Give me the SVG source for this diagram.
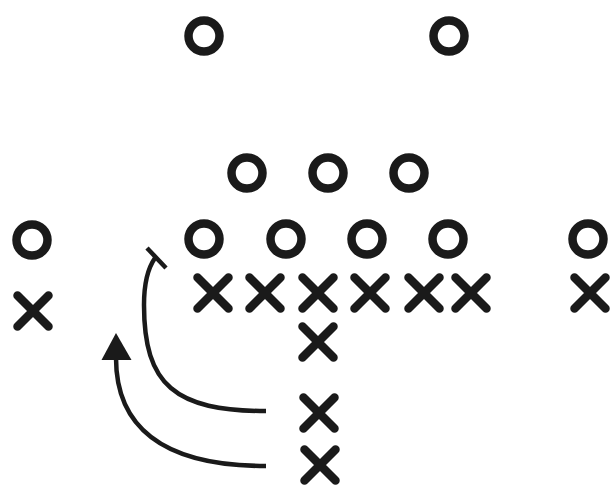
<svg xmlns="http://www.w3.org/2000/svg" width="615" height="490" viewBox="0 0 615 490">
<defs>
<style>
.o{fill:none;stroke:#1a1a1a;stroke-width:8.5}
.x{fill:none;stroke:#1a1a1a;stroke-width:8.5;stroke-linecap:round}
.c{fill:none;stroke:#1a1a1a;stroke-width:4.5}
</style>
<path id="xs" d="M-15.5 -15.5 L15.5 15.5 M-15.5 15.5 L15.5 -15.5"/>
</defs>
<rect width="615" height="490" fill="#fff"/>
<g id="d1"><circle class="o" cx="204" cy="36" r="15.5"/></g>
<g id="d2"><circle class="o" cx="449" cy="36" r="15.5"/></g>
<g id="d3"><circle class="o" cx="247" cy="173" r="15.5"/></g>
<g id="d4"><circle class="o" cx="328" cy="173" r="15.5"/></g>
<g id="d5"><circle class="o" cx="409" cy="173" r="15.5"/></g>
<g id="d6"><circle class="o" cx="32" cy="240" r="15.5"/></g>
<g id="d7"><circle class="o" cx="204" cy="239" r="15.5"/></g>
<g id="d8"><circle class="o" cx="286" cy="239" r="15.5"/></g>
<g id="d9"><circle class="o" cx="367" cy="239" r="15.5"/></g>
<g id="d10"><circle class="o" cx="448" cy="239" r="15.5"/></g>
<g id="d11"><circle class="o" cx="588" cy="239" r="15.5"/></g>
<g id="o1"><use href="#xs" class="x" transform="translate(33 311)"/></g>
<g id="o2"><use href="#xs" class="x" transform="translate(213 293)"/></g>
<g id="o3"><use href="#xs" class="x" transform="translate(265 293)"/></g>
<g id="o4"><use href="#xs" class="x" transform="translate(318 293)"/></g>
<g id="o5"><use href="#xs" class="x" transform="translate(370 293)"/></g>
<g id="o6"><use href="#xs" class="x" transform="translate(424 293)"/></g>
<g id="o7"><use href="#xs" class="x" transform="translate(471 293)"/></g>
<g id="o8"><use href="#xs" class="x" transform="translate(590 293)"/></g>
<g id="o9"><use href="#xs" class="x" transform="translate(318 342)"/></g>
<g id="o10"><use href="#xs" class="x" transform="translate(319 413)"/></g>
<g id="o11"><use href="#xs" class="x" transform="translate(320 465)"/></g>
<g id="connectors">
<path class="c" d="M266 411 C175 411 144 385 144 305 C144 285 148 268 155 258"/>
<path class="c" d="M147 248 L166 268" stroke-linecap="butt"/>
<path class="c" d="M266 466 C160 466 116 425 116 358"/>
<polygon points="116,333 101.5,360 131.5,360" fill="#1a1a1a"/>
</g>
</svg>
